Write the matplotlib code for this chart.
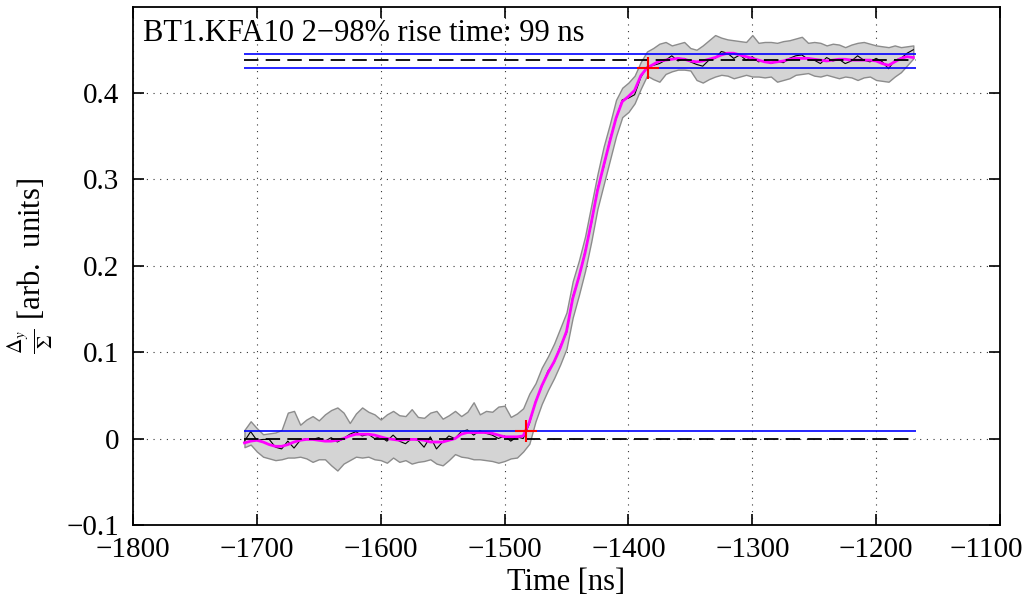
import numpy as np
import matplotlib
matplotlib.use("Agg")
import matplotlib.pyplot as plt
import matplotlib.transforms as mtransforms

plt.rcParams['font.family'] = ['Liberation Serif', 'DejaVu Serif']
plt.rcParams['mathtext.fontset'] = 'stix'

# time grid of the trace [ns], 5 ns steps
t_start, t_stop, t_step = -1710, -1170, 5

# upper / lower edge of the grey spread band
band_upper = [
    0.010, 0.020, 0.012, 0.005, 0.006, 0.007, 0.010, 0.030, 0.032, 0.016,
    0.022, 0.026, 0.021, 0.028, 0.033, 0.036, 0.030, 0.018, 0.029, 0.036,
    0.031, 0.028, 0.022, 0.028, 0.032, 0.027, 0.026, 0.034, 0.025, 0.024,
    0.030, 0.032, 0.023, 0.027, 0.032, 0.026, 0.031, 0.042, 0.028, 0.032,
    0.031, 0.037, 0.038, 0.025, 0.029, 0.035, 0.052, 0.064, 0.082, 0.095,
    0.110, 0.128, 0.146, 0.182, 0.206, 0.234, 0.270, 0.306, 0.338, 0.364,
    0.392, 0.406, 0.412, 0.420, 0.436, 0.448, 0.452, 0.457, 0.459, 0.455,
    0.457, 0.459, 0.452, 0.450, 0.455, 0.461, 0.467, 0.464, 0.462, 0.461,
    0.460, 0.459, 0.467, 0.458, 0.459, 0.459, 0.458, 0.460, 0.461, 0.463,
    0.465, 0.458, 0.459, 0.458, 0.455, 0.457, 0.456, 0.453, 0.456, 0.458,
    0.459, 0.457, 0.455, 0.454, 0.453, 0.455, 0.453, 0.454, 0.455,
]
band_lower = [
    -0.010, -0.007, -0.015, -0.021, -0.023, -0.025, -0.024, -0.022, -0.022, -0.021,
    -0.023, -0.027, -0.024, -0.024, -0.031, -0.037, -0.029, -0.025, -0.021, -0.022,
    -0.021, -0.024, -0.025, -0.028, -0.022, -0.027, -0.025, -0.029, -0.027, -0.026,
    -0.024, -0.029, -0.031, -0.025, -0.018, -0.021, -0.022, -0.024, -0.024, -0.025,
    -0.026, -0.028, -0.026, -0.023, -0.022, -0.015, -0.006, 0.020, 0.040, 0.056,
    0.070, 0.086, 0.104, 0.140, 0.166, 0.194, 0.228, 0.266, 0.294, 0.322,
    0.350, 0.372, 0.378, 0.388, 0.405, 0.420, 0.416, 0.413, 0.422, 0.425,
    0.427, 0.427, 0.426, 0.415, 0.412, 0.416, 0.419, 0.421, 0.420, 0.417,
    0.419, 0.421, 0.419, 0.419, 0.418, 0.419, 0.413, 0.415, 0.417, 0.421,
    0.422, 0.423, 0.420, 0.419, 0.421, 0.419, 0.417, 0.419, 0.418, 0.415,
    0.418, 0.419, 0.415, 0.414, 0.413, 0.419, 0.424, 0.432, 0.440,
]
# raw mean signal (black) and smoothed signal (magenta)
signal_raw = [
    -0.003, 0.008, -0.002, -0.001, -0.001, -0.010, -0.012, -0.003, -0.011, -0.002,
    0.000, -0.001, 0.001, -0.003, 0.001, -0.004, 0.000, 0.005, 0.008, 0.003,
    0.005, 0.000, 0.002, -0.003, 0.004, -0.003, -0.006, 0.000, -0.002, -0.010,
    0.002, -0.012, -0.004, 0.003, 0.000, 0.008, 0.010, 0.004, 0.009, 0.006,
    0.004, 0.000, 0.003, -0.003, 0.002, 0.000, 0.017, 0.043, 0.060, 0.078,
    0.088, 0.107, 0.122, 0.164, 0.186, 0.217, 0.248, 0.289, 0.314, 0.346,
    0.370, 0.392, 0.394, 0.398, 0.418, 0.430, 0.432, 0.434, 0.438, 0.443,
    0.437, 0.440, 0.436, 0.433, 0.431, 0.438, 0.440, 0.448, 0.446, 0.440,
    0.444, 0.438, 0.442, 0.436, 0.438, 0.434, 0.437, 0.435, 0.440, 0.443,
    0.444, 0.439, 0.438, 0.434, 0.441, 0.437, 0.439, 0.434, 0.437, 0.443,
    0.438, 0.436, 0.440, 0.436, 0.428, 0.438, 0.440, 0.446, 0.450,
]
signal_smooth = [
    -0.005, -0.003, -0.002, -0.004, -0.007, -0.009, -0.009, -0.007, -0.004, -0.002,
    -0.001, -0.001, -0.002, -0.003, -0.003, -0.002, 0.000, 0.003, 0.005, 0.005,
    0.005, 0.004, 0.002, 0.000, -0.001, -0.002, -0.001, -0.001, -0.001, -0.002,
    -0.004, -0.004, -0.004, -0.002, 0.000, 0.005, 0.007, 0.007, 0.007, 0.007,
    0.006, 0.004, 0.002, 0.002, 0.002, 0.003, 0.019, 0.042, 0.061, 0.076,
    0.089, 0.105, 0.124, 0.162, 0.187, 0.215, 0.250, 0.287, 0.316, 0.344,
    0.371, 0.390, 0.396, 0.403, 0.420, 0.429, 0.433, 0.437, 0.438, 0.439,
    0.440, 0.439, 0.437, 0.436, 0.437, 0.439, 0.441, 0.444, 0.446, 0.446,
    0.444, 0.442, 0.440, 0.438, 0.436, 0.435, 0.436, 0.437, 0.439, 0.440,
    0.440, 0.440, 0.439, 0.438, 0.437, 0.438, 0.439, 0.439, 0.438, 0.438,
    0.438, 0.438, 0.437, 0.434, 0.432, 0.436, 0.440, 0.442, 0.441,
]

# reference levels
level_lo, level_hi = 0.0, 0.438
thresh_lo_2, thresh_hi_98 = 0.009, 0.429
thresh_hi_top = 0.445
line_x0, line_x1 = -1710, -1168
# 2% and 98% crossing points
cross_t = [-1483, -1384]
cross_y = [0.009, 0.429]

title_text = "BT1.KFA10 2\u221298% rise time: 99 ns"

t = np.arange(t_start, t_stop + 1, t_step)

fig = plt.figure(figsize=(10.35, 6.02), dpi=100)
ax = fig.add_axes([0.1285, 0.128, 0.8377, 0.8604])

ax.fill_between(t, band_lower, band_upper, facecolor='#d4d4d4',
                edgecolor='#8c8c8c', linewidth=1.0, zorder=2)
ax.plot(t, signal_raw, color='black', linewidth=0.8, zorder=3)
ax.plot(t, signal_smooth, color='magenta', linewidth=2.0, zorder=4)

ax.hlines([level_lo, level_hi], line_x0, line_x1, colors='black',
          linestyles=(0, (8, 4)), linewidth=1.3, zorder=5)
ax.hlines([thresh_lo_2, thresh_hi_98, thresh_hi_top], line_x0, line_x1,
          colors='blue', linewidth=1.2, zorder=5)
ax.plot(cross_t, cross_y, linestyle='none', marker='+', color='red',
        markersize=16, markeredgewidth=1.5, zorder=6)

ax.set_xlim(-1800, -1100)
ax.set_ylim(-0.1, 0.4995)
ax.set_xticks(np.arange(-1800, -1099, 100))
ax.set_yticks([-0.1, 0, 0.1, 0.2, 0.3, 0.4])
ax.set_yticklabels(['\u22120.1', '0', '0.1', '0.2', '0.3', '0.4'])
ax.set_xticklabels(['\u2212%d' % abs(v) for v in range(-1800, -1099, 100)])
ax.tick_params(direction='in', length=8, width=1.2, top=True, right=True,
               labelsize=21)
ax.tick_params(axis='x', pad=9)
ax.tick_params(axis='y', pad=10)
ax.grid(True, linestyle=(0, (1, 5)), color='black', linewidth=0.8, alpha=0.8)
for s in ax.spines.values():
    s.set_linewidth(1.3)

# keep the last x label inside the figure
last = ax.get_xticklabels()[-1]
last.set_transform(last.get_transform() +
                   mtransforms.ScaledTranslation(-10 / 72, 0, fig.dpi_scale_trans))

ax.set_xlabel('Time [ns]', fontsize=22, labelpad=3)
ax.set_ylabel(r'$\frac{\Delta_y}{\Sigma}$ [arb.  units]', fontsize=22, labelpad=8)
ax.text(0.011, 0.977, title_text, transform=ax.transAxes, fontsize=22,
        va='top', ha='left', zorder=7)

fig.savefig('out.png', dpi=100)
